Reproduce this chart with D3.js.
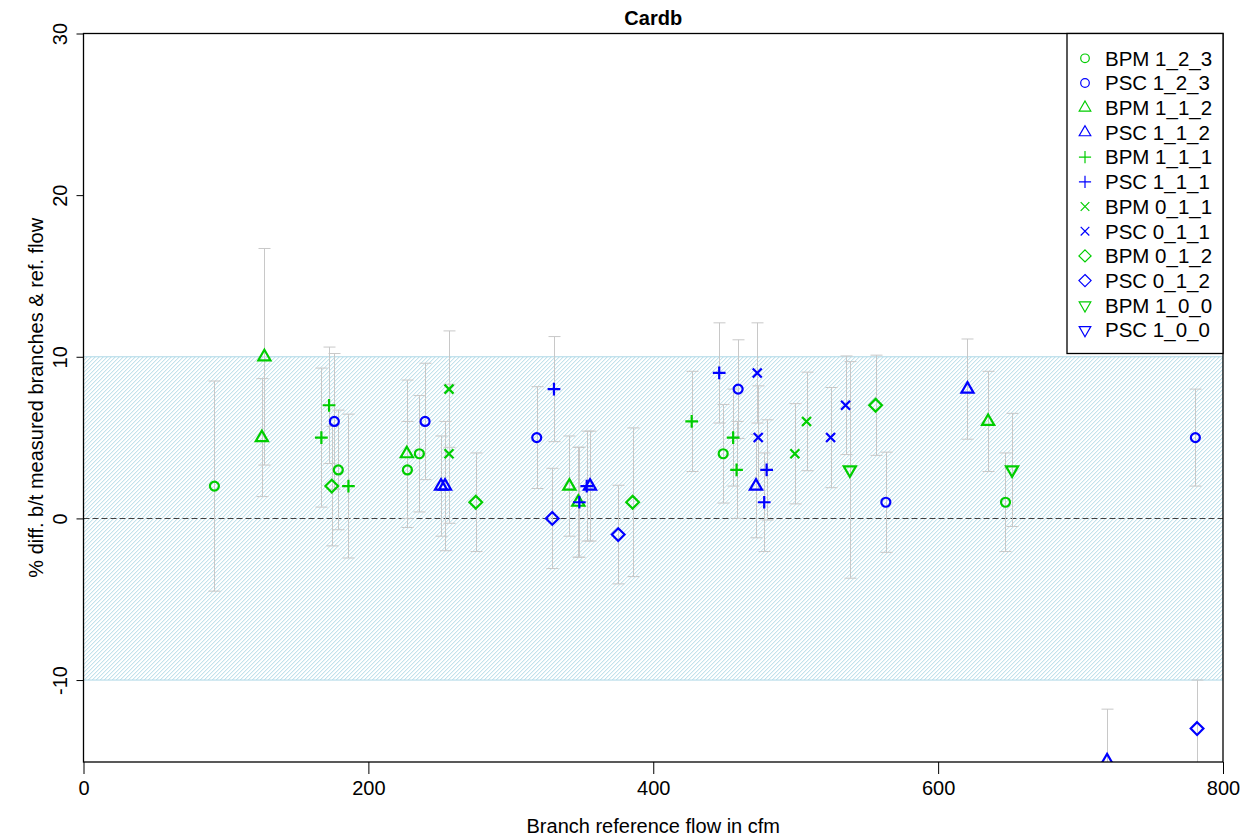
<!DOCTYPE html>
<html>
<head>
<meta charset="utf-8">
<script src="https://cdn.jsdelivr.net/npm/d3@7"></script>
<style>
  body { margin: 0; background: #fff; }
  svg { display: block; font-family: "Liberation Sans", Arial, Helvetica, sans-serif; }
</style>
</head>
<body>
<div id="chart"></div>
<script>
// each point: [branch reference flow (cfm), % difference, error half-width]
const bpm123 = [[91.9, 2, 6.5], [178.9, 3, 3.7], [227.4, 3, 3.0], [235.8, 4, 3.6], [449.1, 4, 3.05], [647.3, 1, 3.05]];
const psc123 = [[176.1, 6, 4.2], [239.8, 6, 3.6], [318.2, 5, 3.15], [459.6, 8, 3.05], [563.3, 1, 3.1], [780.6, 5, 3.0]];
const bpm112 = [[127.0, 10, 6.7], [125.2, 5, 3.65], [227.0, 4, 4.56], [341.1, 2, 3.1], [347.4, 1, 3.4], [635.1, 6, 3.1]];
const psc112 = [[251.0, 2, 3.1], [253.8, 2, 4.0], [355.6, 2, 3.4], [472.1, 2, 3.2], [620.6, 8, 3.1], [718.6, -15, 3.2]];
const bpm111 = [[172.4, 7, 3.6], [167.0, 5, 4.3], [186.0, 2, 4.45], [427.0, 6, 3.1], [456.1, 5, 3.0], [458.5, 3, 3.0]];
const psc111 = [[330.3, 8, 3.25], [348.1, 1, 3.4], [353.3, 2, 3.4], [446.3, 9, 3.1], [479.6, 3, 3.1], [477.9, 1, 3.05]];
const bpm011 = [[256.6, 8, 3.6], [256.6, 4, 4.3], [499.4, 4, 3.1], [507.6, 6, 3.05]];
const psc011 = [[473.0, 9, 3.1], [473.7, 5, 3.2], [524.5, 5, 3.1], [535.0, 7, 3.05]];
const bpm012 = [[174.3, 2, 3.7], [275.4, 1, 3.05], [385.5, 1, 4.6], [556.1, 7, 3.1]];
const psc012 = [[329.1, 0, 3.1], [375.4, -1, 3.05], [781.8, -13, 3.0]];
const bpm100 = [[538.0, 3, 6.7], [651.9, 3, 3.5]];
const psc100 = [];

const legendNames = ['BPM 1_2_3', 'PSC 1_2_3', 'BPM 1_1_2', 'PSC 1_1_2', 'BPM 1_1_1', 'PSC 1_1_1',
  'BPM 0_1_1', 'PSC 0_1_1', 'BPM 0_1_2', 'PSC 0_1_2', 'BPM 1_0_0', 'PSC 1_0_0'];
const xTicks = [0, 200, 400, 600, 800];
const yTicks = [-10, 0, 10, 20, 30];
const bandRange = [-10, 10];

const WIDTH = 1250;
const HEIGHT = 840;
const LEFT = 83.5;
const RIGHT = 1223;
const TOP = 33.5;
const BOTTOM = 762;

const GREEN = '#00cd00';
const BLUE = '#0000ff';
const BAND = '#add8e6';

const series = [
  { name: legendNames[0], data: bpm123, shape: 'circle', color: GREEN },
  { name: legendNames[1], data: psc123, shape: 'circle', color: BLUE },
  { name: legendNames[2], data: bpm112, shape: 'triUp', color: GREEN },
  { name: legendNames[3], data: psc112, shape: 'triUp', color: BLUE },
  { name: legendNames[4], data: bpm111, shape: 'plus', color: GREEN },
  { name: legendNames[5], data: psc111, shape: 'plus', color: BLUE },
  { name: legendNames[6], data: bpm011, shape: 'cross', color: GREEN },
  { name: legendNames[7], data: psc011, shape: 'cross', color: BLUE },
  { name: legendNames[8], data: bpm012, shape: 'diamond', color: GREEN },
  { name: legendNames[9], data: psc012, shape: 'diamond', color: BLUE },
  { name: legendNames[10], data: bpm100, shape: 'triDown', color: GREEN },
  { name: legendNames[11], data: psc100, shape: 'triDown', color: BLUE }
];

// R-style pch outlines, R = symbol radius
const symbolPath = (shape, R) => {
  const r = 1.555 * R, xc = 1.347 * R, yc = 0.778 * R;
  const d = Math.SQRT2 * R;
  switch (shape) {
    case 'circle':
      return `M${R},0A${R},${R} 0 1,1 ${-R},0A${R},${R} 0 1,1 ${R},0Z`;
    case 'triUp':
      return `M0,${-r}L${xc},${yc}L${-xc},${yc}Z`;
    case 'triDown':
      return `M0,${r}L${xc},${-yc}L${-xc},${-yc}Z`;
    case 'plus':
      return `M${-d},0H${d}M0,${-d}V${d}`;
    case 'cross':
      return `M${-R},${-R}L${R},${R}M${-R},${R}L${R},${-R}`;
    case 'diamond':
      return `M0,${-d}L${d},0L0,${d}L${-d},0Z`;
  }
};

const svg = d3.select('#chart').append('svg')
  .attr('width', WIDTH)
  .attr('height', HEIGHT);

const x = d3.scaleLinear().domain([0, 800]).range([LEFT, RIGHT]);
const y = d3.scaleLinear().domain([-15.07, 30]).range([BOTTOM, TOP]);

const defs = svg.append('defs');
defs.append('clipPath').attr('id', 'plotclip')
  .append('rect')
  .attr('x', LEFT).attr('y', TOP)
  .attr('width', RIGHT - LEFT).attr('height', BOTTOM - TOP);

const bandTop = y(bandRange[1]);
const bandBottom = y(bandRange[0]);
defs.append('clipPath').attr('id', 'bandclip')
  .append('rect')
  .attr('x', LEFT).attr('y', bandTop)
  .attr('width', RIGHT - LEFT).attr('height', bandBottom - bandTop);

const plot = svg.append('g').attr('clip-path', 'url(#plotclip)');

// +/-10 % band, hatched with 45 degree lines
const bandH = bandBottom - bandTop;
const hatchStarts = d3.range(LEFT - bandH, RIGHT + 4, 4);
plot.append('g')
  .attr('clip-path', 'url(#bandclip)')
  .selectAll('line')
  .data(hatchStarts)
  .enter()
  .append('line')
  .attr('x1', d => d).attr('y1', bandBottom)
  .attr('x2', d => d + bandH).attr('y2', bandTop)
  .attr('stroke', BAND)
  .attr('stroke-width', 1);

plot.append('rect')
  .attr('x', LEFT)
  .attr('y', bandTop)
  .attr('width', RIGHT - LEFT)
  .attr('height', bandH)
  .attr('fill', 'none')
  .attr('stroke', BAND)
  .attr('stroke-width', 1);

plot.append('line')
  .attr('x1', LEFT).attr('x2', RIGHT)
  .attr('y1', Math.round(y(0)) + 0.5).attr('y2', Math.round(y(0)) + 0.5)
  .attr('stroke', '#404040')
  .attr('stroke-dasharray', '6,3');

// error bars
const allPoints = series.flatMap(s => s.data.map(d => ({ s, cfm: d[0], val: d[1], err: d[2] })));
const bars = plot.append('g')
  .attr('stroke', '#c8c8c8')
  .attr('stroke-width', 1)
  .attr('fill', 'none');

bars.selectAll('path')
  .data(allPoints)
  .enter()
  .append('path')
  .attr('d', d => {
    const px = Math.round(x(d.cfm)) + 0.5;
    const y1 = y(d.val + d.err), y2 = y(d.val - d.err);
    return `M${px},${y1}V${y2}M${px - 6},${y1}H${px + 6}M${px - 6},${y2}H${px + 6}`;
  });

// points
plot.append('g').selectAll('path')
  .data(allPoints)
  .enter()
  .append('path')
  .attr('transform', d => `translate(${x(d.cfm)},${y(d.val)})`)
  .attr('d', d => symbolPath(d.s.shape, 4.5))
  .attr('fill', 'none')
  .attr('stroke', d => d.s.color)
  .attr('stroke-width', 2.2);

// axes
const xAxis = svg.append('g')
  .attr('transform', `translate(0,${BOTTOM})`)
  .call(d3.axisBottom(x).tickValues(xTicks).tickSize(12).tickPadding(7).tickFormat(d => String(d)));
xAxis.select('.domain').remove();
xAxis.selectAll('line').attr('stroke', '#000');
xAxis.selectAll('text').attr('font-size', 20).attr('fill', '#000').attr('font-family', null);

const yAxis = svg.append('g')
  .attr('transform', `translate(${LEFT},0)`)
  .call(d3.axisLeft(y).tickValues(yTicks).tickSize(7).tickFormat(d => String(d)));
yAxis.select('.domain').remove();
yAxis.selectAll('line').attr('stroke', '#000');
yAxis.selectAll('text')
  .attr('x', null)
  .attr('dy', null)
  .attr('text-anchor', 'middle')
  .attr('transform', 'translate(-16.5,0) rotate(-90)')
  .attr('font-size', 20)
  .attr('fill', '#000')
  .attr('font-family', null);

svg.append('rect')
  .attr('x', LEFT).attr('y', TOP)
  .attr('width', RIGHT - LEFT).attr('height', BOTTOM - TOP)
  .attr('fill', 'none')
  .attr('stroke', '#000')
  .attr('stroke-width', 1.3);

// titles
svg.append('text')
  .attr('x', (LEFT + RIGHT) / 2)
  .attr('y', 25)
  .attr('text-anchor', 'middle')
  .attr('font-size', 20)
  .attr('font-weight', 'bold')
  .text('Cardb');

svg.append('text')
  .attr('x', (LEFT + RIGHT) / 2)
  .attr('y', 833)
  .attr('text-anchor', 'middle')
  .attr('font-size', 20)
  .text('Branch reference flow in cfm');

svg.append('text')
  .attr('transform', `translate(43,${(TOP + BOTTOM) / 2}) rotate(-90)`)
  .attr('text-anchor', 'middle')
  .attr('font-size', 20)
  .text('% diff. b/t measured branches & ref. flow');

// legend
const legend = svg.append('g');
legend.append('rect')
  .attr('x', 1067).attr('y', TOP)
  .attr('width', RIGHT - 1067).attr('height', 353.5 - TOP)
  .attr('fill', '#fff')
  .attr('stroke', '#000')
  .attr('stroke-width', 1.3);

const rows = legend.selectAll('g.row')
  .data(series)
  .enter()
  .append('g')
  .attr('class', 'row')
  .attr('transform', (d, i) => `translate(1085,${58.3 + i * 24.7})`);

rows.append('path')
  .attr('d', d => symbolPath(d.shape, 4.3))
  .attr('fill', 'none')
  .attr('stroke', d => d.color)
  .attr('stroke-width', 1.2);

rows.append('text')
  .attr('x', 20)
  .attr('dy', '0.36em')
  .attr('font-size', 20.5)
  .text(d => d.name);
</script>
</body>
</html>
